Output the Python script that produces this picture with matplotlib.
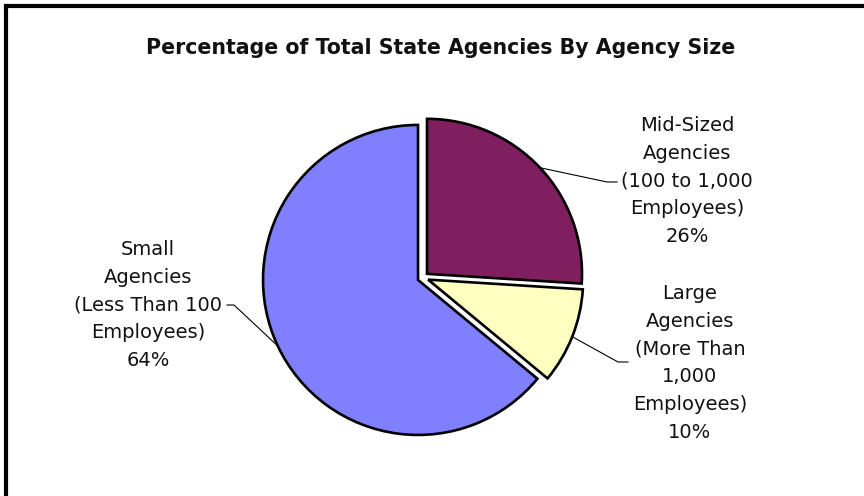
import matplotlib
matplotlib.use("Agg")
import matplotlib.pyplot as plt
import numpy as np

# data
labels = ["Mid-Sized\nAgencies\n(100 to 1,000\nEmployees)\n26%",
          "Large\nAgencies\n(More Than\n1,000\nEmployees)\n10%",
          "Small\nAgencies\n(Less Than 100\nEmployees)\n64%"]
shares = [26, 10, 64]
colors = ["#7F1F5F", "#FFFFC0", "#8080FF"]
title = "Percentage of Total State Agencies By Agency Size"

W, H = 864, 496
fig = plt.figure(figsize=(W / 100, H / 100), dpi=100)
ax = fig.add_axes([0, 0, 1, 1])

# pie in pixel coords (y up); explode is in data units here
cx, cy, r = 423, H - 277.6, 155
wedges, _ = ax.pie(shares, colors=colors, startangle=90, counterclock=False,
                   center=(cx, cy), radius=r, explode=[5.5] * 3,
                   wedgeprops=dict(edgecolor="black", linewidth=1.9))
ax.set_xlim(0, W)
ax.set_ylim(0, H)
ax.set_aspect("equal")
ax.axis("off")

# label positions (pixels, y down) and leader elbows
label_xy = [(687, 181), (690, 363), (148, 305)]
elbow_xy = [(607, 182), (618, 362), (234, 305)]
tail_xy = [(617, 182), (628, 362), (227, 305)]

for w, lab, (lx, ly), (ex, ey), (tx, ty) in zip(wedges, labels, label_xy, elbow_xy, tail_xy):
    ang = np.deg2rad((w.theta1 + w.theta2) / 2)
    px = w.center[0] + w.r * np.cos(ang)
    py = w.center[1] + w.r * np.sin(ang)
    ax.plot([px, ex, tx], [py, H - ey, H - ty], color="black", lw=0.8)
    ax.text(lx, H - ly, lab, ha="center", va="center", fontsize=14,
            linespacing=1.58, color="#111111", family="DejaVu Sans")

fig.text(441 / W, 1 - 48 / H, title, ha="center", va="center", fontsize=14.8,
         fontweight="bold", color="#111111")

# frame (left and top only visible)
ax.plot([5.5, 5.5], [0, H - 5.5], color="black", lw=3, solid_capstyle="projecting")
ax.plot([5.5, W], [H - 5.5, H - 5.5], color="black", lw=3, solid_capstyle="projecting")

fig.savefig("out.png", dpi=100)
